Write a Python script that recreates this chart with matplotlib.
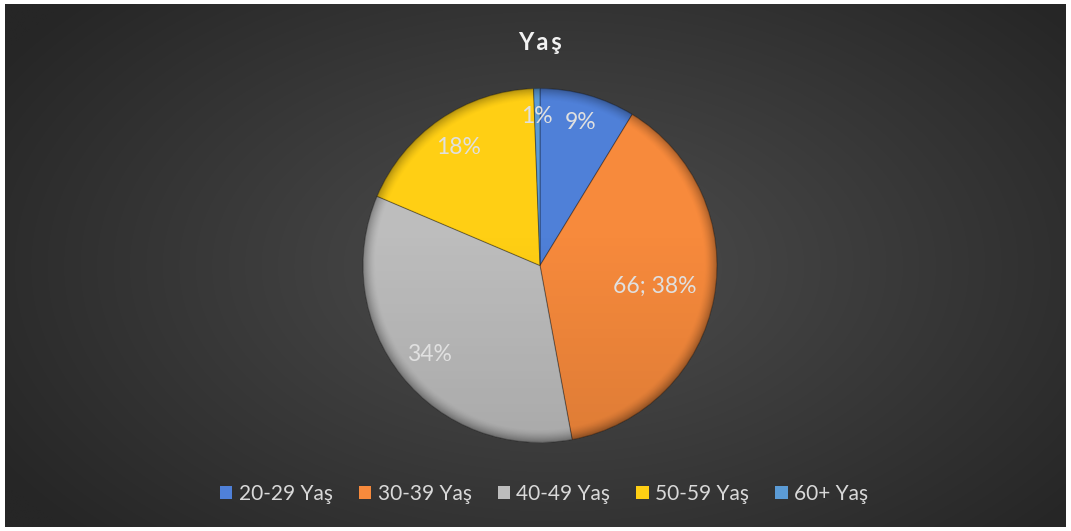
import numpy as np
import matplotlib
matplotlib.use("Agg")
import matplotlib.pyplot as plt
from matplotlib.patches import Patch, Circle

categories = ["20-29 Yaş", "30-39 Yaş", "40-49 Yaş", "50-59 Yaş", "60+ Yaş"]
values = [15, 66, 59, 31, 1]
colors = ["#4F80D8", "#F78A3C", "#BDBDBD", "#FFCF14", "#5B9BD5"]
label_r = [0.84, 0.66, 0.80, 0.81, 0.84]
title = "Y\u2009a\u2009ş"

W, H = 1071, 531
fig = plt.figure(figsize=(W / 100, H / 100), dpi=100)
fig.patch.set_facecolor("white")

# background gradient
bx, by = 5, 4
bg = fig.add_axes([bx / W, by / H, (W - 2 * bx) / W, (H - 2 * by) / H])
ny, nx = 300, 600
yy, xx = np.mgrid[0:ny, 0:nx]
cx, cy = nx * 0.52, ny * 0.5
d = np.sqrt(((xx - cx) / (nx * 0.62)) ** 2 + ((yy - cy) / (ny * 0.75)) ** 2)
d = np.clip(d, 0, 1)
inner, outer = 0x4E / 255, 0x26 / 255
g = inner + (outer - inner) * d
img = np.dstack([g, g, g])
bg.imshow(img, aspect="auto", extent=[0, 1, 0, 1], interpolation="bilinear")
bg.set_axis_off()

# pie
R = 177
cxp, cyp = 540, 265.5
ax = fig.add_axes([(cxp - R) / W, (H - cyp - R) / H, 2 * R / W, 2 * R / H])
wedges, _ = ax.pie(values, colors=colors, startangle=90, counterclock=False,
                   radius=1, wedgeprops=dict(edgecolor=(0, 0, 0, 0.3), linewidth=0.8))
ax.set_xlim(-1, 1)
ax.set_ylim(-1, 1)
ax.set_aspect("equal")
ax.set_axis_off()

# subtle bevel shading overlay
n = 400
py, px = np.mgrid[1:-1:n * 1j, -1:1:n * 1j]
rr = np.sqrt(px ** 2 + py ** 2)
shade = np.zeros((n, n, 4))
rim = np.clip((rr - 0.93) / 0.07, 0, 1) ** 1.5
vert = np.clip((-py + 0.2) / 1.2, 0, 1) * 0.10
alpha = np.clip(rim * 0.30 + vert, 0, 1)
shade[..., 3] = alpha
im = ax.imshow(shade, extent=[-1, 1, -1, 1], zorder=3, interpolation="bilinear")
im.set_clip_path(Circle((0, 0), 1, transform=ax.transData))
ax.set_xlim(-1, 1)
ax.set_ylim(-1, 1)

total = sum(values)
for i, (w, v) in enumerate(zip(wedges, values)):
    pct = round(100 * v / total)
    txt = f"{v}; {pct}%" if i == 1 else f"{pct}%"
    ang = np.deg2rad((w.theta1 + w.theta2) / 2)
    ax.text(label_r[i] * np.cos(ang), label_r[i] * np.sin(ang), txt, zorder=5,
            ha="center", va="center", color="#E0E0E0", fontsize=16.5, family="Lato")

fig.text(540 / W, 1 - 43 / H, title, ha="center", va="center", color="#F2F2F2",
         fontsize=17, fontweight="bold", family="Lato")

handles = [Patch(facecolor=c, edgecolor="none") for c in colors]
leg = fig.legend(handles, categories, loc="center", bbox_to_anchor=(544 / W, 1 - 494 / H),
                 ncol=5, frameon=False, handlelength=0.6, handleheight=0.6,
                 handletextpad=0.3, columnspacing=1.25, prop={"family": "Lato", "size": 15})
for t in leg.get_texts():
    t.set_color("#D9D9D9")

fig.savefig("out.png", dpi=100, facecolor=fig.get_facecolor())
